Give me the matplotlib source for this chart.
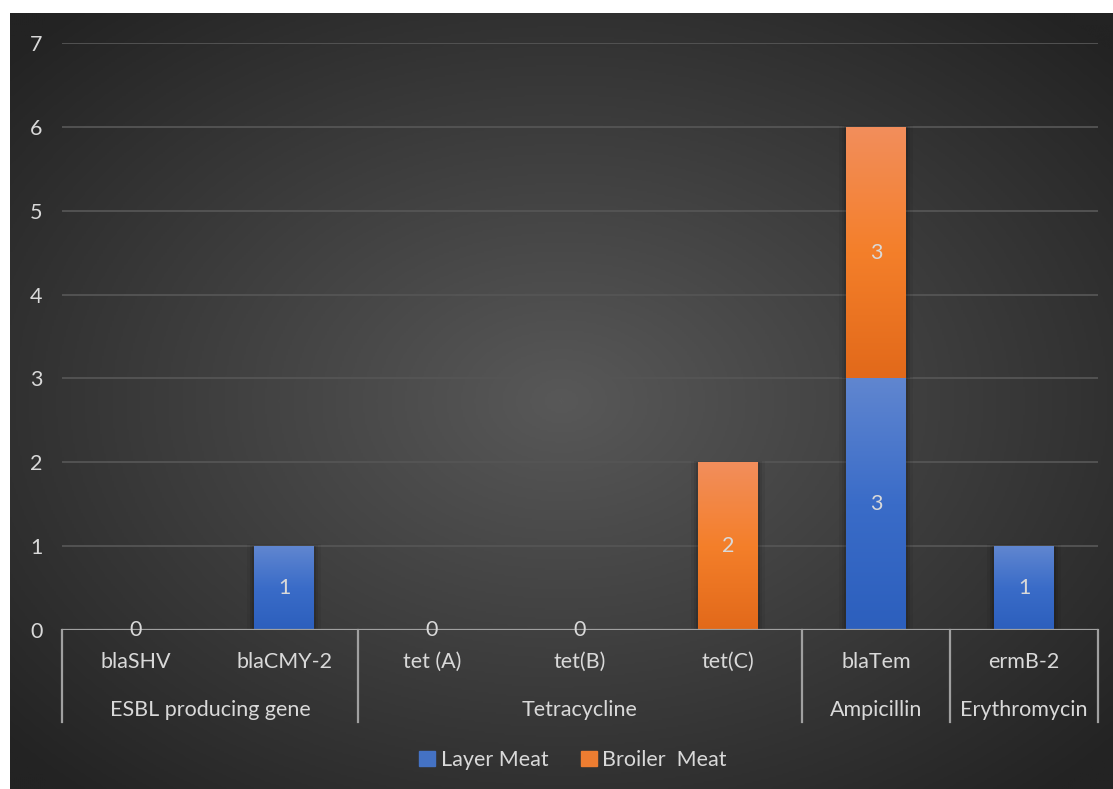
import numpy as np
import matplotlib.pyplot as plt
from matplotlib.patches import Patch
from matplotlib.colors import LinearSegmentedColormap
import matplotlib.transforms as mtransforms

# Gene counts per meat type
genes = ['blaSHV', 'blaCMY-2', 'tet (A)', 'tet(B)', 'tet(C)', 'blaTem', 'ermB-2']
groups = ['ESBL producing gene', 'Tetracycline', 'Ampicillin', 'Erythromycin']
group_sizes = [2, 3, 1, 1]
layer_meat = [0, 1, 0, 0, np.nan, 3, 1]
broiler_meat = [np.nan, np.nan, np.nan, np.nan, 2, 3, np.nan]

plt.rcParams['font.family'] = ['Lato', 'DejaVu Sans']
txt_col = '#d9d9d9'
fs = 15.5

fig = plt.figure(figsize=(11.13, 7.89), dpi=100)
fig.patch.set_facecolor('white')

# radial dark background
bg = fig.add_axes([10 / 1113, 0, 1 - 10 / 1113, 1 - 13 / 789], zorder=0)
yy, xx = np.mgrid[-1:1:400j, -1:1:560j]
r = np.sqrt(xx ** 2 + yy ** 2)
shade = np.clip(1 - r / 1.35, 0, 1)
bg_cmap = LinearSegmentedColormap.from_list('bg', ['#232323', '#585858'])
bg.imshow(shade, cmap=bg_cmap, aspect='auto', extent=[0, 1, 0, 1], interpolation='bilinear')
bg.set_axis_off()

ax = fig.add_axes([62 / 1113, 159 / 789, 1036 / 1113, 587 / 789], zorder=1)
ax.patch.set_alpha(0)

x = np.arange(len(genes))
layer = np.nan_to_num(layer_meat)
broiler = np.nan_to_num(broiler_meat)
b1 = ax.bar(x, layer, 0.405, color='#4472c4', zorder=3)
b2 = ax.bar(x, broiler, 0.405, bottom=layer, color='#ed7d31', zorder=3)

blue_grad = LinearSegmentedColormap.from_list('bl', ['#2c5fbd', '#3a6cc8', '#6086d0'])
orange_grad = LinearSegmentedColormap.from_list('or', ['#e2691a', '#f47f2a', '#f28e5c'])
grad = np.linspace(0, 1, 256).reshape(-1, 1)
for bars, cmap in [(b1, blue_grad), (b2, orange_grad)]:
    for p in bars:
        h = p.get_height()
        if h <= 0:
            continue
        x0, y0, w = p.get_x(), p.get_y(), p.get_width()
        # soft shadow behind each bar
        for k, a in [(0.05, 0.06), (0.03, 0.08), (0.012, 0.10)]:
            ax.add_patch(plt.Rectangle((x0 - k, y0), w + 2 * k, h + k * 0.4,
                                       color='black', alpha=a, lw=0, zorder=2))
        im = ax.imshow(grad, cmap=cmap, origin='lower', aspect='auto',
                       extent=[x0, x0 + w, y0, y0 + h], zorder=4)
        im.set_clip_path(p)

# data labels
for i in range(len(genes)):
    if not np.isnan(layer_meat[i]):
        ax.text(x[i], layer[i] / 2, f'{int(layer_meat[i])}', ha='center', va='center',
                color=txt_col, fontsize=fs, zorder=6)
    if not np.isnan(broiler_meat[i]):
        ax.text(x[i], layer[i] + broiler[i] / 2, f'{int(broiler_meat[i])}', ha='center',
                va='center', color=txt_col, fontsize=fs, zorder=6)

ax.set_xlim(-0.5, len(genes) - 0.5)
ax.set_ylim(0, 7)
ax.set_yticks(range(8))
ax.yaxis.grid(True, color='#555555', lw=1.3, zorder=1)
ax.set_axisbelow(True)
for s in ax.spines.values():
    s.set_visible(False)
ax.tick_params(axis='y', length=0, pad=18.5, labelcolor=txt_col, labelsize=fs)
for lab in ax.get_yticklabels():
    lab.set_horizontalalignment('center')
ax.set_xticks(x)
ax.set_xticklabels(genes)
ax.tick_params(axis='x', length=0, pad=16, labelcolor=txt_col, labelsize=fs)

# category axis with group separators
line_col = '#a0a0a0'
ax.axhline(0, color=line_col, lw=1.6, zorder=5)
trans = mtransforms.blended_transform_factory(ax.transData, ax.transAxes)
edges = np.concatenate([[0], np.cumsum(group_sizes)]) - 0.5
for e in edges:
    ax.plot([e, e], [0, -92 / 587], color=line_col, lw=1.6, transform=trans, clip_on=False)
for g, lo, hi in zip(groups, edges[:-1], edges[1:]):
    ax.text((lo + hi) / 2, -80 / 587, g, transform=trans, ha='center', va='center',
            color=txt_col, fontsize=fs)

handles = [Patch(color='#4472c4', label='Layer Meat'),
           Patch(color='#ed7d31', label='Broiler  Meat')]
leg = fig.legend(handles=handles, loc='center', bbox_to_anchor=(573 / 1113, 1 - 760 / 789),
                 ncol=2, frameon=False, fontsize=fs, handlelength=0.75, handleheight=0.75,
                 handletextpad=0.25, columnspacing=1.5)
for t in leg.get_texts():
    t.set_color(txt_col)

fig.savefig('out.png', dpi=100, facecolor=fig.get_facecolor())
